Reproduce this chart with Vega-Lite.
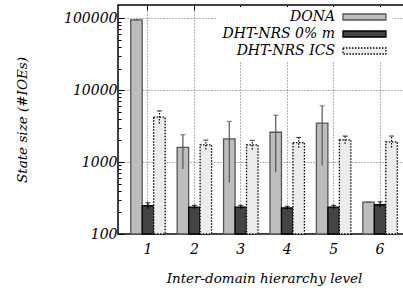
{
  "$schema": "https://vega.github.io/schema/vega-lite/v6.json",
  "width": 292,
  "height": 229,
  "autosize": {"type": "none"},
  "padding": {"left": 118, "top": 5, "right": 0, "bottom": 57},
  "background": "white",
  "data": {
    "values": [
      {"level": "1", "series": "DONA", "value": 95000, "lo": 95000, "hi": 95000},
      {"level": "2", "series": "DONA", "value": 1600, "lo": 800, "hi": 2400},
      {"level": "3", "series": "DONA", "value": 2100, "lo": 520, "hi": 3680},
      {"level": "4", "series": "DONA", "value": 2600, "lo": 720, "hi": 4480},
      {"level": "5", "series": "DONA", "value": 3480, "lo": 900, "hi": 6060},
      {"level": "6", "series": "DONA", "value": 278, "lo": 278, "hi": 278},
      {"level": "1", "series": "DHT-NRS 0% m", "value": 247, "lo": 225, "hi": 272},
      {"level": "2", "series": "DHT-NRS 0% m", "value": 237, "lo": 225, "hi": 250},
      {"level": "3", "series": "DHT-NRS 0% m", "value": 237, "lo": 225, "hi": 250},
      {"level": "4", "series": "DHT-NRS 0% m", "value": 230, "lo": 218, "hi": 243},
      {"level": "5", "series": "DHT-NRS 0% m", "value": 237, "lo": 225, "hi": 250},
      {"level": "6", "series": "DHT-NRS 0% m", "value": 255, "lo": 235, "hi": 280},
      {"level": "1", "series": "DHT-NRS ICS", "value": 4220, "lo": 3450, "hi": 5150},
      {"level": "2", "series": "DHT-NRS ICS", "value": 1740, "lo": 1500, "hi": 2020},
      {"level": "3", "series": "DHT-NRS ICS", "value": 1740, "lo": 1500, "hi": 2000},
      {"level": "4", "series": "DHT-NRS ICS", "value": 1870, "lo": 1580, "hi": 2200},
      {"level": "5", "series": "DHT-NRS ICS", "value": 2040, "lo": 1800, "hi": 2300},
      {"level": "6", "series": "DHT-NRS ICS", "value": 1915, "lo": 1600, "hi": 2300}
    ]
  },
  "resolve": {"axis": {"x": "independent"}},
  "layer": [
    {
      "mark": {"type": "bar", "strokeWidth": 1.3},
      "encoding": {
        "x": {
          "field": "level", "type": "ordinal",
          "scale": {"paddingInner": 0.258, "paddingOuter": 0.274},
          "axis": {
            "orient": "bottom", "title": "Inter-domain hierarchy level",
            "labelAngle": 0, "tickSize": -6, "labelPadding": 14,
            "grid": true, "titlePadding": 15
          }
        },
        "xOffset": {
          "field": "series", "type": "nominal",
          "sort": ["DONA", "DHT-NRS 0% m", "DHT-NRS ICS"],
          "scale": {"paddingInner": 0, "paddingOuter": 0}
        },
        "y": {
          "field": "value", "type": "quantitative",
          "scale": {"type": "log", "domain": [100, 153000], "nice": false},
          "axis": {
            "title": "State size (#IOEs)",
            "values": [100, 200, 300, 400, 500, 600, 700, 800, 900, 1000, 2000, 3000, 4000, 5000, 6000, 7000, 8000, 9000, 10000, 20000, 30000, 40000, 50000, 60000, 70000, 80000, 90000, 100000],
            "labelExpr": "(datum.value == 100 || datum.value == 1000 || datum.value == 10000 || datum.value == 100000) ? format(datum.value, 'd') : ''",
            "labelOverlap": false,
            "labelFlush": false,
            "tickSize": {"condition": {"test": "datum.value == 100 || datum.value == 1000 || datum.value == 10000 || datum.value == 100000", "value": -6}, "value": -3},
            "gridOpacity": {"condition": {"test": "datum.value == 100 || datum.value == 1000 || datum.value == 10000 || datum.value == 100000", "value": 1}, "value": 0},
            "labelPadding": 7,
            "titlePadding": 34,
            "grid": true
          }
        },
        "y2": {"datum": 100},
        "fill": {
          "field": "series", "type": "nominal",
          "sort": ["DONA", "DHT-NRS 0% m", "DHT-NRS ICS"],
          "scale": {"domain": ["DONA", "DHT-NRS 0% m", "DHT-NRS ICS"], "range": ["#bdbdbd", "#444444", "#ececec"]},
          "legend": {"title": null}
        },
        "stroke": {
          "field": "series", "type": "nominal",
          "sort": ["DONA", "DHT-NRS 0% m", "DHT-NRS ICS"],
          "scale": {"domain": ["DONA", "DHT-NRS 0% m", "DHT-NRS ICS"], "range": ["#555555", "#000000", "#000000"]},
          "legend": {"title": null}
        },
        "strokeDash": {
          "field": "series", "type": "nominal",
          "sort": ["DONA", "DHT-NRS 0% m", "DHT-NRS ICS"],
          "scale": {"domain": ["DONA", "DHT-NRS 0% m", "DHT-NRS ICS"], "range": [[1, 0], [1, 0], [1.5, 1.5]]},
          "legend": {"title": null}
        }
      }
    },
    {
      "mark": {"type": "rule", "strokeWidth": 1.2},
      "encoding": {
        "x": {
          "field": "level", "type": "ordinal",
          "scale": {"paddingInner": 0.258, "paddingOuter": 0.274},
          "axis": {"orient": "top", "title": null, "labels": false, "tickSize": -5, "grid": false, "domain": false}
        },
        "xOffset": {"field": "series", "type": "nominal", "sort": ["DONA", "DHT-NRS 0% m", "DHT-NRS ICS"]},
        "y": {"field": "lo", "type": "quantitative"},
        "y2": {"field": "hi"},
        "stroke": {"field": "series", "type": "nominal", "legend": null},
        "strokeDash": {"field": "series", "type": "nominal", "legend": null}
      }
    },
    {
      "mark": {"type": "tick", "orient": "horizontal", "size": 5, "thickness": 1.2},
      "encoding": {
        "x": {"field": "level", "type": "ordinal", "axis": null},
        "xOffset": {"field": "series", "type": "nominal", "sort": ["DONA", "DHT-NRS 0% m", "DHT-NRS ICS"]},
        "y": {"field": "hi", "type": "quantitative"},
        "color": {"field": "series", "type": "nominal", "scale": {"domain": ["DONA", "DHT-NRS 0% m", "DHT-NRS ICS"], "range": ["#555555", "#000000", "#000000"]}, "legend": null}
      }
    }
  ],
  "config": {
    "font": "DejaVu Serif",
    "view": {"stroke": "black", "strokeWidth": 1.5},
    "axis": {
      "labelFont": "DejaVu Serif", "labelFontStyle": "italic", "labelFontSize": 14, "labelColor": "black",
      "titleFont": "DejaVu Serif", "titleFontStyle": "italic", "titleFontSize": 13.5, "titleFontWeight": "normal", "titleColor": "black",
      "domain": false, "tickColor": "black", "tickWidth": 1,
      "gridColor": "#666666", "gridDash": [1, 2], "gridWidth": 1
    },
    "legend": {
      "orient": "none", "legendX": 98, "legendY": 2,
      "symbolType": "M38.1,-0.98L52.1,-0.98L52.1,0.98L38.1,0.98Z", "symbolSize": 37.7, "symbolStrokeWidth": 1.3,
      "labelAlign": "right", "labelOffset": 102,
      "labelFont": "DejaVu Serif", "labelFontStyle": "italic", "labelFontSize": 14, "labelColor": "black",
      "fillColor": "white", "padding": 3, "rowPadding": 3
    }
  }
}
